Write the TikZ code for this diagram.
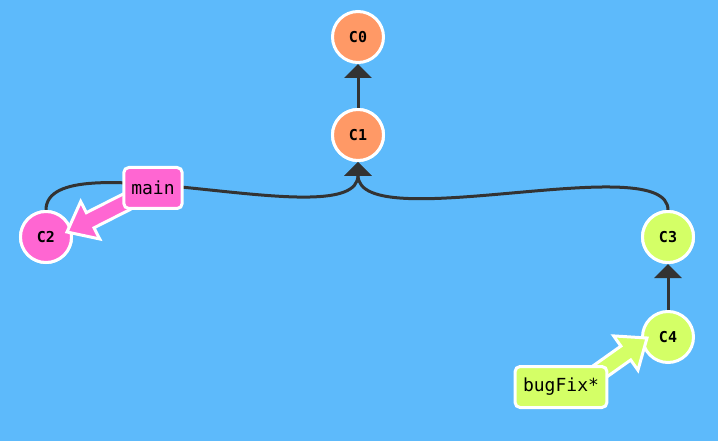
\documentclass[tikz,border=0pt]{standalone}
\usepackage{fontspec}
\setmonofont{DejaVu Sans Mono}
\usetikzlibrary{arrows.meta,calc}
\definecolor{bgblue}{RGB}{93,186,251}
\definecolor{corange}{RGB}{255,153,102}
\definecolor{cpink}{RGB}{255,102,210}
\definecolor{cgreen}{RGB}{212,255,102}
\definecolor{edgegray}{RGB}{51,51,51}
\begin{document}
\begin{tikzpicture}[x=1pt,y=-1pt,
  commit/.style={circle,draw=white,line width=3pt,minimum size=51pt,inner sep=0pt,
    font=\fontsize{15}{15}\selectfont\ttfamily\bfseries,text=black},
  edge/.style={draw=edgegray,line width=3pt,-{Triangle[width=27pt,length=14pt]}},
  branchlbl/.style={draw=white,line width=3pt,rounded corners=5pt,inner xsep=7.5pt,
    minimum height=41pt,font=\fontsize{18}{18}\selectfont\ttfamily,text=black},
  bigarrow/.style={draw=white,line width=3pt,line join=miter}]
\fill[bgblue] (0,0) rectangle (718,441);
\useasboundingbox (0,0) rectangle (718,441);
% commits
\node[commit,fill=corange] (C0) at (358,37) {C0};
\node[commit,fill=corange] (C1) at (358,135) {C1};
\node[commit,fill=cpink] (C2) at (46,237) {C2};
\node[commit,fill=cgreen] (C3) at (668,237) {C3};
\node[commit,fill=cgreen] (C4) at (668,337) {C4};
% edges
\draw[edge] (C1.north) -- (C0.south);
\draw[edge] (C4.north) -- (C3.south);
\draw[edge] (C2.north) .. controls +(0,-72) and +(0,76) .. (C1.south);
\draw[edge] (C3.north) .. controls +(0,-62) and +(0,76) .. (C1.south);
% redraw commits over edge ends
\node[commit,fill=corange] at (C1) {C1};
\node[commit,fill=cpink] at (C2) {C2};
\node[commit,fill=cgreen] at (C3) {C3};
% branch arrows
\coordinate (mainpos) at (153,188);
\coordinate (mtail) at (136,197);
\coordinate (mtip) at ($(C2.east)+(-6,-5)$);
\coordinate (mh) at ($(mtip)!26pt!(mtail)$);
\filldraw[bigarrow,fill=cpink]
  ($(mtail)!8.5pt!90:(mtip)$) -- ($(mh)!8.5pt!-90:(mtail)$) -- ($(mh)!21pt!-90:(mtail)$)
  -- (mtip) -- ($(mh)!21pt!90:(mtail)$) -- ($(mh)!8.5pt!90:(mtail)$)
  -- ($(mtail)!8.5pt!-90:(mtip)$) -- cycle;
\coordinate (bugpos) at (561,387);
\coordinate (btail) at (585,382);
\coordinate (btip) at ($(C4.west)+(6,1)$);
\coordinate (bh) at ($(btip)!26pt!(btail)$);
\filldraw[bigarrow,fill=cgreen]
  ($(btail)!8.5pt!90:(btip)$) -- ($(bh)!8.5pt!-90:(btail)$) -- ($(bh)!21pt!-90:(btail)$)
  -- (btip) -- ($(bh)!21pt!90:(btail)$) -- ($(bh)!8.5pt!90:(btail)$)
  -- ($(btail)!8.5pt!-90:(btip)$) -- cycle;
% branch labels
\node[branchlbl,fill=cpink] (main) at (mainpos) {main};
\node[branchlbl,fill=cgreen,inner xsep=8pt] (bugFix) at (bugpos) {bugFix*};
\end{tikzpicture}
\end{document}
